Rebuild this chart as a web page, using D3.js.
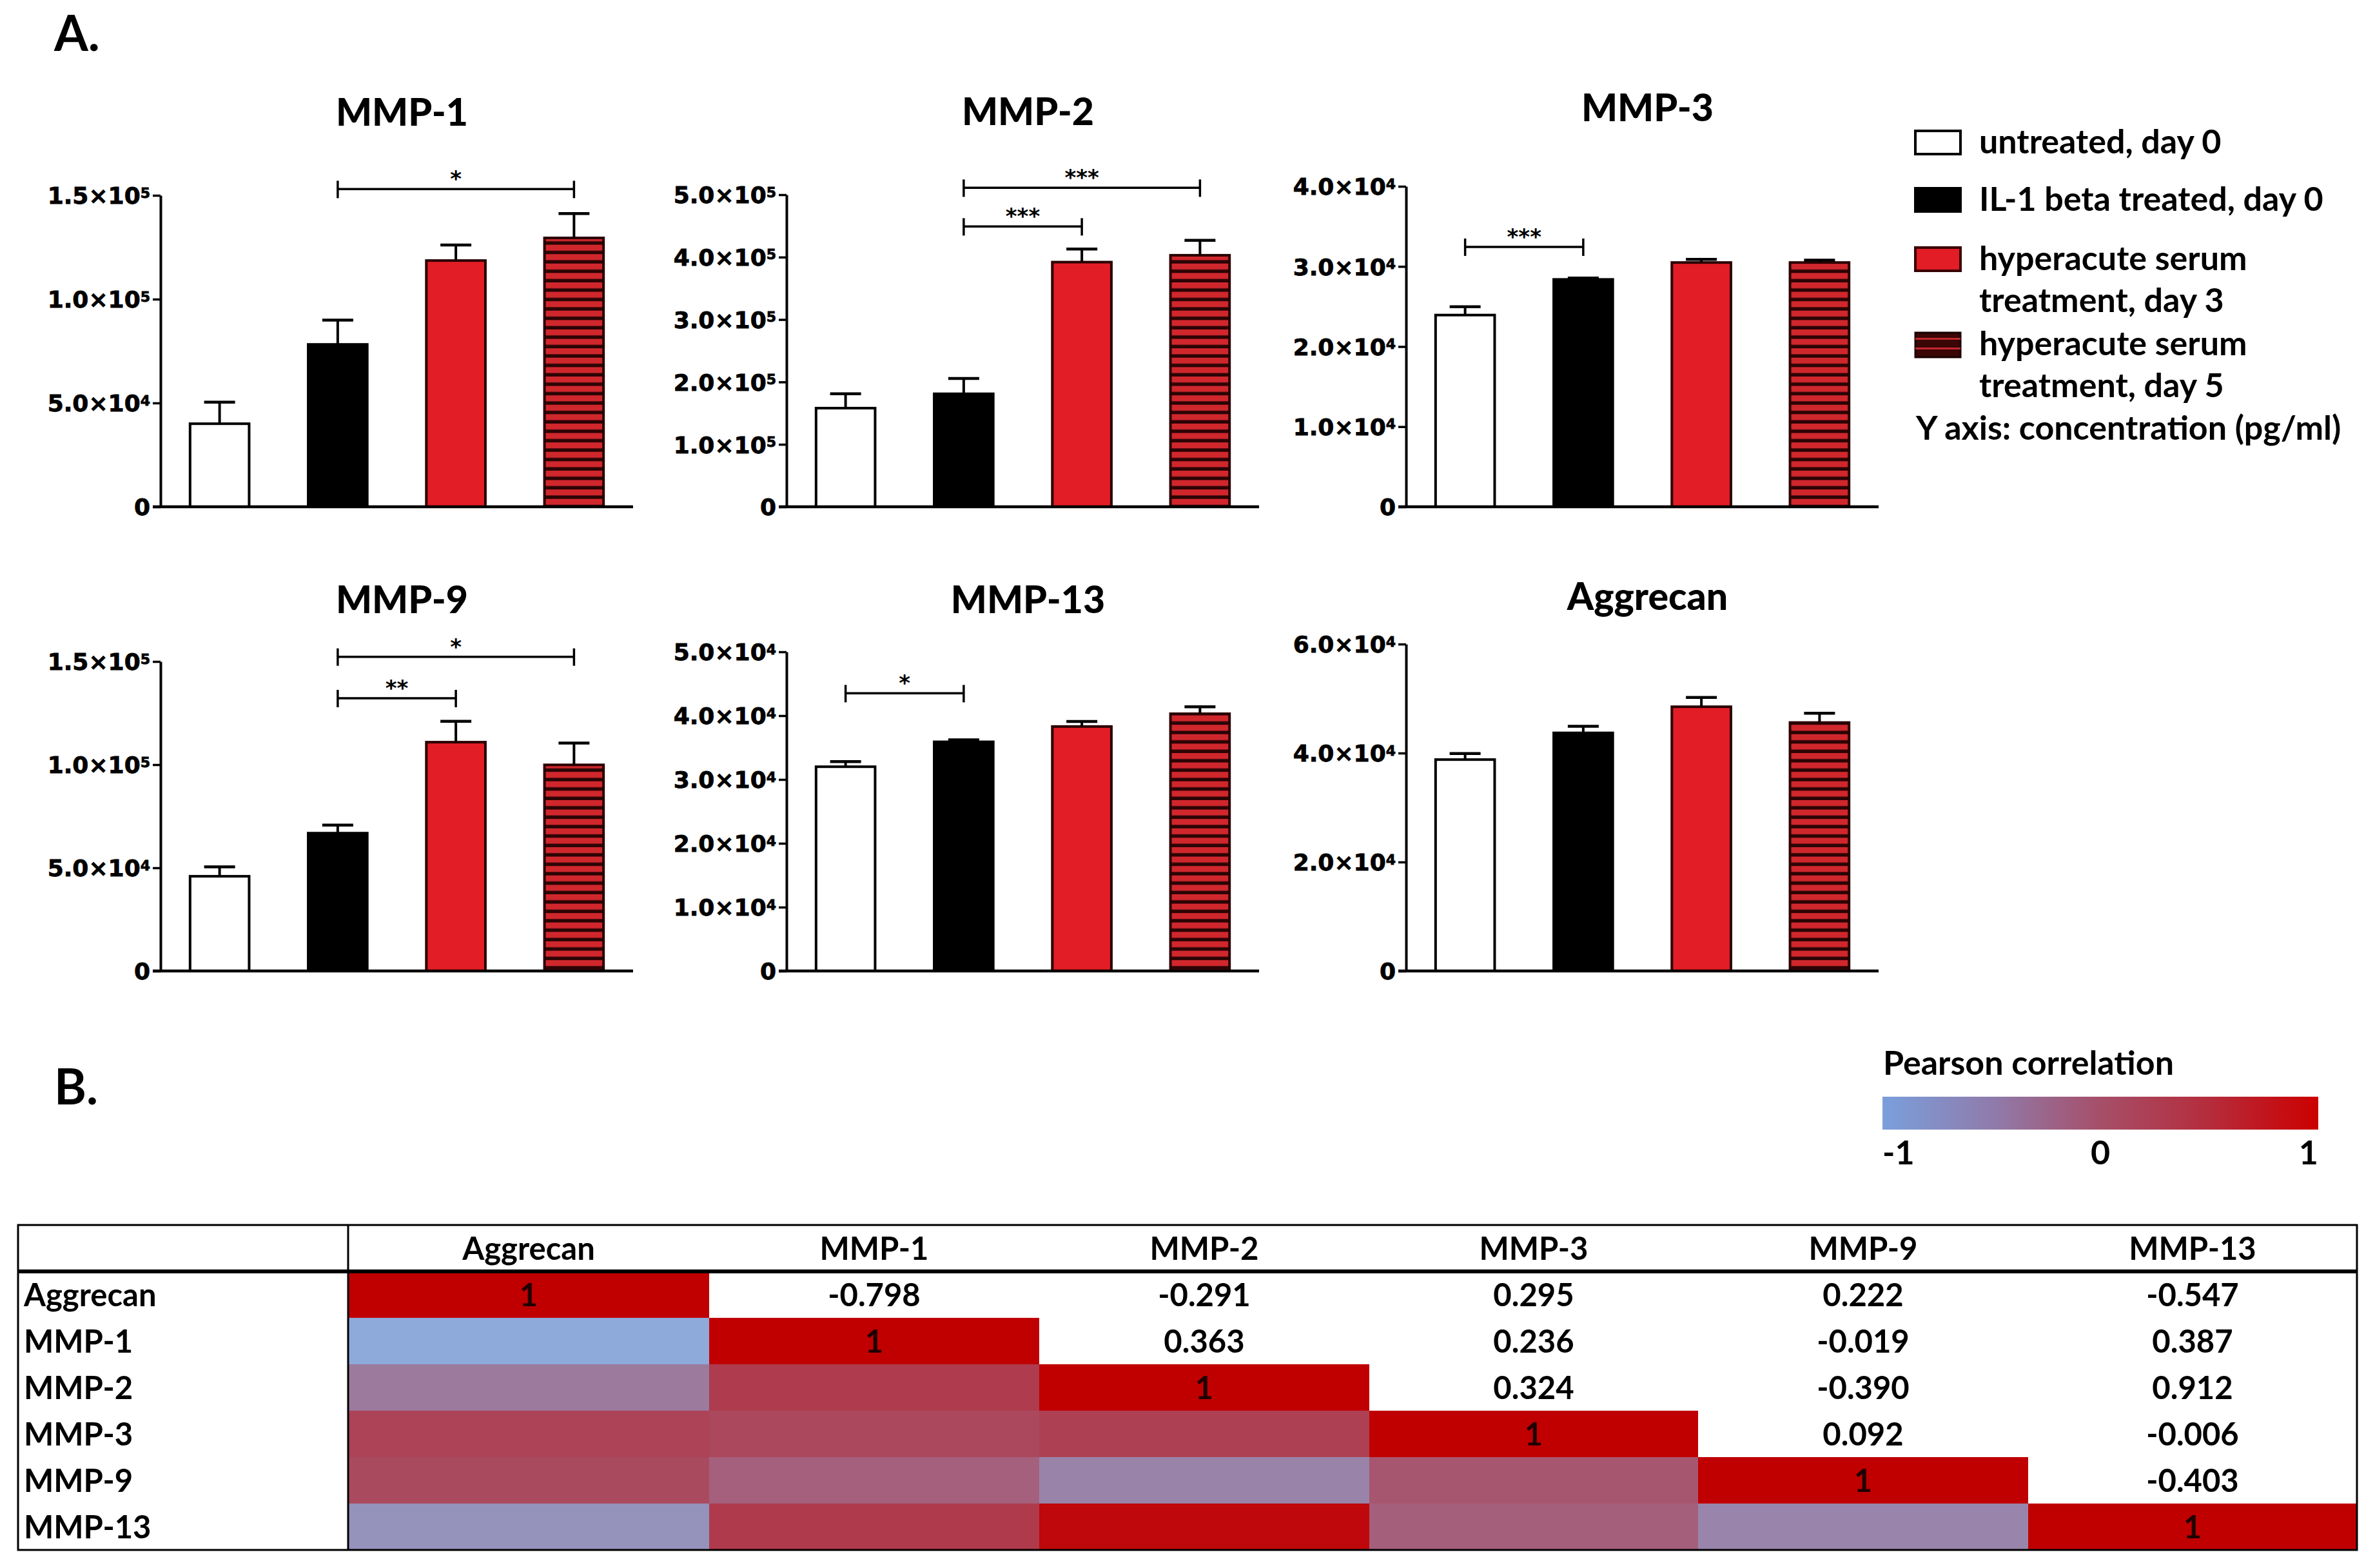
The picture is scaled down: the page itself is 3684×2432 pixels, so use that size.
<!DOCTYPE html>
<html><head><meta charset="utf-8">
<script src="https://cdn.jsdelivr.net/npm/d3@7"></script>
<style>body{margin:0;background:#fff}svg{display:block}</style>
</head><body><script>
// ---------- DATA ----------
const groupLabels = ["untreated, day 0", "IL-1 beta treated, day 0", "hyperacute serum treatment, day 3", "hyperacute serum treatment, day 5"];
const panelTitles = ["MMP-1", "MMP-2", "MMP-3", "MMP-9", "MMP-13", "Aggrecan"];

const meanMMP1 = [40000, 78200, 118600, 129500];
const errMMP1  = [10400, 11700, 7500, 11700];
const meanMMP2 = [158000, 181000, 392000, 403000];
const errMMP2  = [23000, 24500, 21000, 24000];
const meanMMP3 = [23930, 28380, 30490, 30490];
const errMMP3  = [1040, 180, 400, 290];
const meanMMP9 = [45900, 66800, 110900, 99900];
const errMMP9  = [4600, 3900, 10100, 10600];
const meanMMP13 = [32000, 35900, 38300, 40300];
const errMMP13  = [800, 300, 800, 1100];
const meanAggrecan = [38800, 43700, 48500, 45600];
const errAggrecan  = [1100, 1200, 1700, 1700];

const ticksMMP1 = [0, 50000, 100000, 150000];
const tickLabelsMMP1 = ["0", "5.0×10^4", "1.0×10^5", "1.5×10^5"];
const ticksMMP2 = [0, 100000, 200000, 300000, 400000, 500000];
const tickLabelsMMP2 = ["0", "1.0×10^5", "2.0×10^5", "3.0×10^5", "4.0×10^5", "5.0×10^5"];
const ticksMMP3 = [0, 10000, 20000, 30000, 40000];
const tickLabelsMMP3 = ["0", "1.0×10^4", "2.0×10^4", "3.0×10^4", "4.0×10^4"];
const ticksMMP9 = [0, 50000, 100000, 150000];
const tickLabelsMMP9 = ["0", "5.0×10^4", "1.0×10^5", "1.5×10^5"];
const ticksMMP13 = [0, 10000, 20000, 30000, 40000, 50000];
const tickLabelsMMP13 = ["0", "1.0×10^4", "2.0×10^4", "3.0×10^4", "4.0×10^4", "5.0×10^4"];
const ticksAggrecan = [0, 20000, 40000, 60000];
const tickLabelsAggrecan = ["0", "2.0×10^4", "4.0×10^4", "6.0×10^4"];

// significance brackets: [fromGroup, toGroup, bracket value, stars]
const sigMMP1 = [[1, 3, 153000, "*"]];
const sigMMP2 = [[1, 3, 511000, "***"], [1, 2, 449000, "***"]];
const sigMMP3 = [[0, 1, 32440, "***"]];
const sigMMP9 = [[1, 3, 152300, "*"], [1, 2, 132200, "**"]];
const sigMMP13 = [[0, 1, 43500, "*"]];
const sigAggrecan = [];

const corrNames = ["Aggrecan", "MMP-1", "MMP-2", "MMP-3", "MMP-9", "MMP-13"];
const corrAggrecan = [1, -0.798, -0.291, 0.295, 0.222, -0.547];
const corrMMP1 = [-0.798, 1, 0.363, 0.236, -0.019, 0.387];
const corrMMP2 = [-0.291, 0.363, 1, 0.324, -0.390, 0.912];
const corrMMP3 = [0.295, 0.236, 0.324, 1, 0.092, -0.006];
const corrMMP9 = [0.222, -0.019, -0.390, 0.092, 1, -0.403];
const corrMMP13 = [-0.547, 0.387, 0.912, -0.006, -0.403, 1];
const colorbarTicks = [-1, 0, 1];

// ---------- LAYOUT ----------
const W = 3684, H = 2432;
const LABEL_FONT = "Lato, 'Open Sans', sans-serif";
const TICK_FONT = "'DejaVu Sans', sans-serif";
const RED = "#e31d25";

const svg = d3.select("body").append("svg").attr("width", W).attr("height", H)
  .attr("viewBox", `0 0 ${W} ${H}`).style("background", "#fff");

const defs = svg.append("defs");
const pat = defs.append("pattern").attr("id", "stripes").attr("patternUnits", "userSpaceOnUse")
  .attr("width", 20).attr("height", 14.6);
pat.append("rect").attr("width", 20).attr("height", 14.6).attr("fill", "#d0272d");
pat.append("rect").attr("y", 9.2).attr("width", 20).attr("height", 5.4).attr("fill", "#2c0405");

const fills = ["#ffffff", "#000000", RED, "url(#stripes)"];

const panels = [
  {title: panelTitles[0], mean: meanMMP1, err: errMMP1, ticks: ticksMMP1, labels: tickLabelsMMP1, sig: sigMMP1, ax: 249, top: 303, zero: 786, tb: 195},
  {title: panelTitles[1], mean: meanMMP2, err: errMMP2, ticks: ticksMMP2, labels: tickLabelsMMP2, sig: sigMMP2, ax: 1220, top: 302, zero: 786, tb: 194},
  {title: panelTitles[2], mean: meanMMP3, err: errMMP3, ticks: ticksMMP3, labels: tickLabelsMMP3, sig: sigMMP3, ax: 2181, top: 289, zero: 786, tb: 188},
  {title: panelTitles[3], mean: meanMMP9, err: errMMP9, ticks: ticksMMP9, labels: tickLabelsMMP9, sig: sigMMP9, ax: 249, top: 1026, zero: 1506, tb: 951},
  {title: panelTitles[4], mean: meanMMP13, err: errMMP13, ticks: ticksMMP13, labels: tickLabelsMMP13, sig: sigMMP13, ax: 1220, top: 1011, zero: 1506, tb: 951},
  {title: panelTitles[5], mean: meanAggrecan, err: errAggrecan, ticks: ticksAggrecan, labels: tickLabelsAggrecan, sig: sigAggrecan, ax: 2181, top: 999, zero: 1506, tb: 946}
];
const PW = 733;

svg.append("text").attr("x", 84).attr("y", 79).attr("font-family", LABEL_FONT).attr("font-weight", 700)
  .attr("font-size", 76).text("A.");
svg.append("text").attr("x", 84).attr("y", 1713).attr("font-family", LABEL_FONT).attr("font-weight", 700)
  .attr("font-size", 76).text("B.");

panels.forEach(p => {
  const g = svg.append("g");
  const x = d3.scaleBand().domain([0, 1, 2, 3]).range([p.ax, p.ax + PW]).paddingInner(0.5).paddingOuter(0.25);
  const y = d3.scaleLinear().domain([0, d3.max(p.ticks)]).range([p.zero, p.top]);

  // title
  g.append("text").attr("x", p.ax + PW / 2 + 8).attr("y", p.tb).attr("text-anchor", "middle")
    .attr("font-family", LABEL_FONT).attr("font-weight", 900).attr("font-size", 59).text(p.title);

  // y axis
  const axis = d3.axisLeft(y).tickValues(p.ticks).tickSize(12).tickSizeOuter(0).tickPadding(4);
  const ag = g.append("g").attr("transform", `translate(${p.ax},0)`).call(axis);
  ag.select(".domain").attr("stroke", "#000").attr("stroke-width", 4);
  ag.selectAll(".tick line").attr("stroke", "#000").attr("stroke-width", 3.5);
  ag.selectAll(".tick text").attr("font-family", TICK_FONT).attr("font-weight", 700)
    .attr("font-size", 36).attr("fill", "#000").attr("dy", "0.36em")
    .attr("stroke", "#000").attr("stroke-width", 0.8)
    .each(function(d, i) {
      const parts = p.labels[i].split("^");
      const t = d3.select(this).text(null);
      t.append("tspan").text(parts[0]);
      if (parts[1]) t.append("tspan").attr("dy", "-0.45em").attr("font-size", 22).text(parts[1]);
    });

  // bars
  g.selectAll("rect.bar").data(p.mean).join("rect").attr("class", "bar")
    .attr("x", (d, i) => x(i)).attr("y", d => y(d))
    .attr("width", x.bandwidth()).attr("height", d => y(0) - y(d))
    .attr("fill", (d, i) => fills[i]).attr("stroke", (d, i) => i >= 2 ? "#2a0000" : "#000").attr("stroke-width", 4);

  // error bars
  const eg = g.selectAll("g.err").data(p.mean).join("g").attr("class", "err");
  eg.append("line").attr("x1", (d, i) => x(i) + x.bandwidth() / 2).attr("x2", (d, i) => x(i) + x.bandwidth() / 2)
    .attr("y1", d => y(d)).attr("y2", (d, i) => y(d + p.err[i])).attr("stroke", "#000").attr("stroke-width", 4);
  eg.append("line").attr("x1", (d, i) => x(i) + x.bandwidth() / 2 - 24).attr("x2", (d, i) => x(i) + x.bandwidth() / 2 + 24)
    .attr("y1", (d, i) => y(d + p.err[i])).attr("y2", (d, i) => y(d + p.err[i])).attr("stroke", "#000").attr("stroke-width", 4.5);

  // x axis
  g.append("line").attr("x1", p.ax - 12).attr("x2", p.ax + PW).attr("y1", y(0)).attr("y2", y(0))
    .attr("stroke", "#000").attr("stroke-width", 4.5);

  // significance
  p.sig.forEach(s => {
    const x1 = x(s[0]) + x.bandwidth() / 2, x2 = x(s[1]) + x.bandwidth() / 2, yy = y(s[2]);
    g.append("line").attr("x1", x1).attr("x2", x2).attr("y1", yy).attr("y2", yy).attr("stroke", "#000").attr("stroke-width", 3.5);
    [x1, x2].forEach(xx => g.append("line").attr("x1", xx).attr("x2", xx).attr("y1", yy - 13).attr("y2", yy + 14)
      .attr("stroke", "#000").attr("stroke-width", 3.5));
    g.append("text").attr("x", (x1 + x2) / 2).attr("y", yy - 4).attr("text-anchor", "middle")
      .attr("font-family", TICK_FONT).attr("font-weight", 700).attr("font-size", 34).text(s[3]);
  });
});

// legend
const lg = svg.append("g");
const LEG_FS = 52;
const legRows = [
  {y: 203, lines: [groupLabels[0]]},
  {y: 292, lines: [groupLabels[1]]},
  {y: 384, lines: ["hyperacute serum", "treatment, day 3"]},
  {y: 516, lines: ["hyperacute serum", "treatment, day 5"]}
];
legRows.forEach((r, i) => {
  if (i < 3) {
    lg.append("rect").attr("x", 2971).attr("y", r.y).attr("width", 70).attr("height", 36)
      .attr("fill", fills[i]).attr("stroke", i === 2 ? "#3a0000" : "#000").attr("stroke-width", 4);
  } else {
    lg.append("rect").attr("x", 2971).attr("y", r.y).attr("width", 70).attr("height", 38)
      .attr("fill", "#3a0606").attr("stroke", "#1a0000").attr("stroke-width", 3);
    [8, 23].forEach(o => lg.append("rect").attr("x", 2971).attr("y", r.y + o).attr("width", 70).attr("height", 3).attr("fill", "#c0282d"));
  }
  r.lines.forEach((ln, k) => lg.append("text").attr("x", 3070).attr("y", r.y + 35 + k * 65)
    .attr("font-family", LABEL_FONT).attr("font-weight", 700).attr("font-size", LEG_FS).text(ln));
});
lg.append("text").attr("x", 2972).attr("y", 682).attr("font-family", LABEL_FONT).attr("font-weight", 700)
  .attr("font-size", LEG_FS).text("Y axis: concentration (pg/ml)");

// colorbar
const cbX = d3.scaleLinear().domain([-1, 1]).range([2920, 3596]);
const grad = defs.append("linearGradient").attr("id", "cbgrad");
grad.append("stop").attr("offset", "0%").attr("stop-color", "#7a9fdc");
grad.append("stop").attr("offset", "25%").attr("stop-color", "#8f7cac");
grad.append("stop").attr("offset", "50%").attr("stop-color", "#a64f69");
grad.append("stop").attr("offset", "75%").attr("stop-color", "#b52c3c");
grad.append("stop").attr("offset", "100%").attr("stop-color", "#cc0000");
svg.append("text").attr("x", 2921).attr("y", 1667).attr("font-family", LABEL_FONT).attr("font-weight", 700)
  .attr("font-size", 52).text("Pearson correlation");
svg.append("rect").attr("x", cbX(-1)).attr("y", 1701).attr("width", cbX(1) - cbX(-1)).attr("height", 51).attr("fill", "url(#cbgrad)");
svg.selectAll("text.cbt").data(colorbarTicks).join("text").attr("class", "cbt")
  .attr("x", d => cbX(d)).attr("y", 1806)
  .attr("text-anchor", (d, i) => i === 0 ? "start" : i === 2 ? "end" : "middle")
  .attr("font-family", LABEL_FONT).attr("font-weight", 700).attr("font-size", 52).text(d => d);

// correlation table
const corrRows = [corrAggrecan, corrMMP1, corrMMP2, corrMMP3, corrMMP9, corrMMP13];
const allVals = corrRows.flat();
const color = d3.scaleLinear().domain([d3.min(allVals), 1]).range(["#8eaadb", "#c00000"]);
const colWidths = [560, 512, 512, 510, 512, 510];
const tableLeft = 28, labelW = 512;
const colEdges = [tableLeft + labelW, ...d3.cumsum(colWidths).map(v => tableLeft + labelW + v)];
const colX = d3.scaleOrdinal().domain(corrNames).range(colEdges.slice(0, 6));
const colW = d3.scaleOrdinal().domain(corrNames).range(colWidths);
const headTop = 1900, headBottom = 1972;
const rowY = d3.scaleBand().domain(corrNames).range([headBottom, 2404]);
const tableRight = colEdges[6];
const TFS = 49;

const tg = svg.append("g");
const cells = [];
corrRows.forEach((row, i) => row.forEach((v, j) => cells.push({r: corrNames[i], c: corrNames[j], i, j, v})));
tg.selectAll("rect.cell").data(cells.filter(d => d.j <= d.i)).join("rect").attr("class", "cell")
  .attr("x", d => colX(d.c)).attr("y", d => rowY(d.r)).attr("width", d => colW(d.c)).attr("height", rowY.bandwidth())
  .attr("fill", d => color(d.v));
tg.selectAll("text.cv").data(cells.filter(d => d.j >= d.i)).join("text").attr("class", "cv")
  .attr("x", d => colX(d.c) + colW(d.c) / 2).attr("y", d => rowY(d.r) + rowY.bandwidth() / 2).attr("dy", "0.36em")
  .attr("text-anchor", "middle").attr("font-family", LABEL_FONT).attr("font-weight", 700).attr("font-size", TFS)
  .attr("fill", d => d.i === d.j ? "#200000" : "#000")
  .text(d => d.i === d.j ? "1" : d3.format(".3f")(d.v).replace("−", "-"));
tg.selectAll("text.rl").data(corrNames).join("text").attr("class", "rl")
  .attr("x", 37).attr("y", d => rowY(d) + rowY.bandwidth() / 2).attr("dy", "0.36em")
  .attr("font-family", LABEL_FONT).attr("font-weight", 700).attr("font-size", TFS).text(d => d);
tg.selectAll("text.cl").data(corrNames).join("text").attr("class", "cl")
  .attr("x", d => colX(d) + colW(d) / 2).attr("y", (headTop + headBottom) / 2).attr("dy", "0.36em")
  .attr("text-anchor", "middle").attr("font-family", LABEL_FONT).attr("font-weight", 700).attr("font-size", TFS).text(d => d);
tg.append("rect").attr("x", tableLeft).attr("y", headTop).attr("width", tableRight - tableLeft).attr("height", 2404 - headTop)
  .attr("fill", "none").attr("stroke", "#000").attr("stroke-width", 3);
tg.append("line").attr("x1", tableLeft).attr("x2", tableRight).attr("y1", headBottom).attr("y2", headBottom)
  .attr("stroke", "#000").attr("stroke-width", 6);
tg.append("line").attr("x1", tableLeft + labelW).attr("x2", tableLeft + labelW).attr("y1", headTop).attr("y2", 2404)
  .attr("stroke", "#000").attr("stroke-width", 3);
</script></body></html>
